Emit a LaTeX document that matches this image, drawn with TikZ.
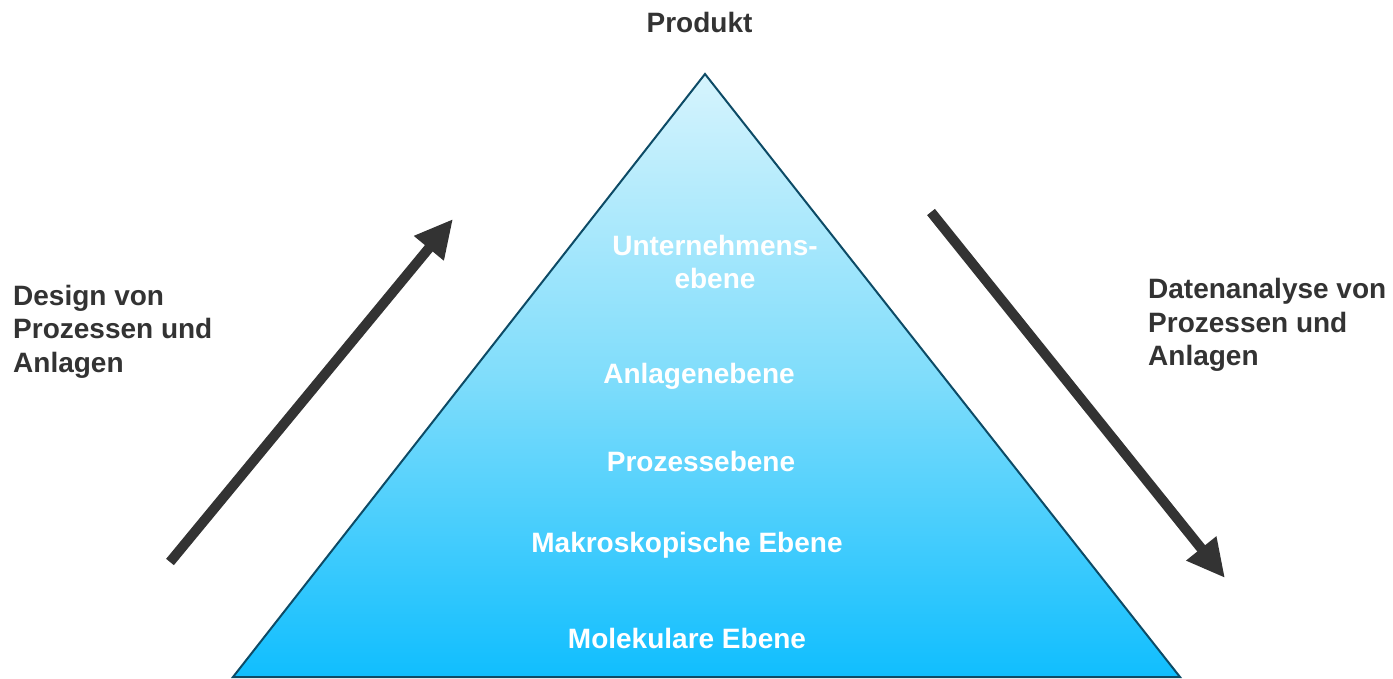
\documentclass[tikz,border=0pt]{standalone}
\usepackage{fontspec}
\setmainfont{Liberation Sans}
\usetikzlibrary{arrows.meta}
\definecolor{txtgray}{HTML}{333333}
\definecolor{edgeblue}{HTML}{0D4B66}
\definecolor{topblue}{HTML}{D6F4FD}
\definecolor{midblue}{HTML}{80DDFB}
\definecolor{botblue}{HTML}{10BEFE}
\tikzset{
  outer/.style={inner sep=0pt, text=txtgray, font=\bfseries\fontsize{28}{33}\selectfont},
  level/.style={inner sep=0pt, text=white, font=\bfseries\fontsize{28}{33}\selectfont, anchor=base},
  bigarrow/.style={draw=txtgray, line width=10pt, -{Triangle[length=38pt,width=36pt]}},
}
\begin{document}
\begin{tikzpicture}[x=1pt,y=-1pt]
\useasboundingbox (0,0) rectangle (1393,678);
% pyramid
\coordinate (apex) at (705,74);
\coordinate (bl) at (233,677);
\coordinate (br) at (1180,677);
\shade[top color=topblue, bottom color=botblue, middle color=midblue] (apex) -- (br) -- (bl) -- cycle;
\draw[edgeblue, line width=2pt, line join=miter] (apex) -- (br) -- (bl) -- cycle;
% labels
\node[outer, anchor=base] (prod) at (699.5,32) {Produkt};
\node[level] (u1) at (715,255) {Unternehmens-};
\node[level] (u2) at (715,288) {ebene};
\node[level] (anl) at (699,383) {Anlagenebene};
\node[level] (proz) at (701,471) {Prozessebene};
\node[level] (makro) at (687,552) {Makroskopische Ebene};
\node[level] (mol) at (687,648) {Molekulare Ebene};
% side texts
\node[outer, anchor=base west] (d1) at (13,305) {Design von};
\node[outer, anchor=base west] (d2) at (13,338) {Prozessen und};
\node[outer, anchor=base west] (d3) at (13,372) {Anlagen};
\node[outer, anchor=base west] (a1) at (1148,298) {Datenanalyse von};
\node[outer, anchor=base west] (a2) at (1148,332) {Prozessen und};
\node[outer, anchor=base west] (a3) at (1148,365) {Anlagen};
% arrows
\coordinate (lt) at (170,562);
\coordinate (lh) at (453,219);
\coordinate (rt) at (931,212);
\coordinate (rh) at (1225,578);
\draw[bigarrow] (lt) -- (lh);
\draw[bigarrow] (rt) -- (rh);
\end{tikzpicture}
\end{document}
